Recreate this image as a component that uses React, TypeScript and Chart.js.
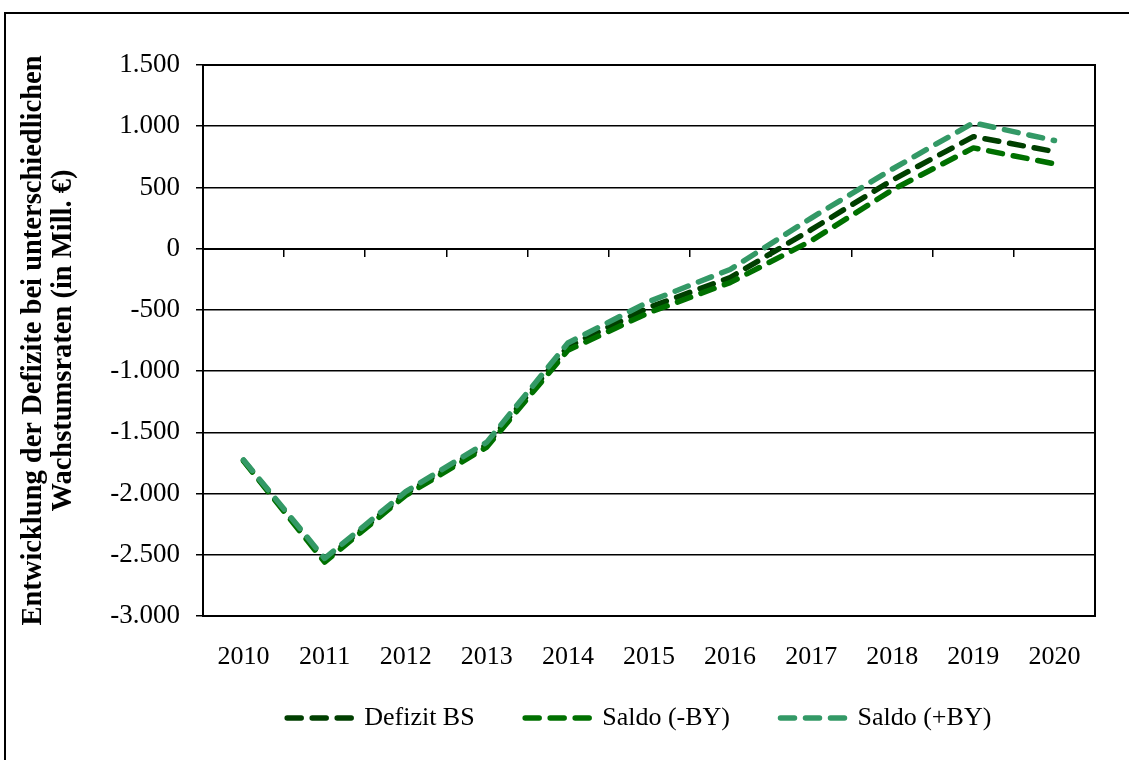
import React, { useEffect, useRef } from "react";
import { Chart, registerables } from "chart.js";

Chart.register(...registerables);

const years = ["2010", "2011", "2012", "2013", "2014", "2015", "2016", "2017", "2018", "2019", "2020"];
const defizitBS = [-1730, -2545, -2000, -1600, -800, -480, -236, 155, 560, 915, 793];
const saldoMinusBY = [-1735, -2560, -2015, -1620, -830, -522, -277, 64, 480, 823, 693];
const saldoPlusBY = [-1725, -2530, -1985, -1580, -770, -432, -170, 250, 650, 1028, 883];
const seriesNames = ["Defizit BS", "Saldo (-BY)", "Saldo (+BY)"];
const seriesColors = ["#003f00", "#007000", "#339966"];
const yMin = -3000;
const yMax = 1500;
const yStep = 500;
const yTitle = ["Entwicklung der Defizite bei unterschiedlichen", "Wachstumsraten (in Mill. €)"];

const FONT = "'Liberation Serif', 'Times New Roman', serif";
const DASH = [14, 11];
const LINE_W = 5.5;

function fmtDE(v: number): string {
  const s = Math.abs(Math.round(v)).toString().replace(/\B(?=(\d{3})+(?!\d))/g, ".");
  return (v < 0 ? "-" : "") + s;
}

const plotBorder = {
  id: "plotBorder",
  beforeDatasetsDraw(chart: any) {
    const { ctx, chartArea } = chart;
    ctx.save();
    ctx.strokeStyle = "#000";
    ctx.lineWidth = 2;
    ctx.strokeRect(chartArea.left, chartArea.top, chartArea.right - chartArea.left, chartArea.bottom - chartArea.top);
    ctx.restore();
  },
};

export default function App() {
  const ref = useRef<HTMLCanvasElement | null>(null);

  useEffect(() => {
    if (!ref.current) return;
    const data = [defizitBS, saldoMinusBY, saldoPlusBY];
    const chart = new Chart(ref.current, {
      type: "line",
      data: {
        labels: years,
        datasets: data.map((d, i) => ({
          label: seriesNames[i],
          data: d,
          borderColor: seriesColors[i],
          backgroundColor: seriesColors[i],
          borderWidth: LINE_W,
          borderDash: DASH,
          borderCapStyle: "round",
          borderJoinStyle: "round",
          pointRadius: 0,
          tension: 0,
          fill: false,
          order: 3 - i,
          xAxisID: "x",
          yAxisID: "y",
        })),
      },
      options: {
        responsive: false,
        animation: false,
        layout: { padding: { left: 0, top: 65, right: 34, bottom: 19 } },
        plugins: {
          tooltip: { enabled: false },
          legend: {
            position: "bottom",
            fullSize: false,
            labels: {
              usePointStyle: true,
              pointStyle: "line",
              pointStyleWidth: 64,
              padding: 31,
              color: "#000",
              font: { family: FONT, size: 26 },
              generateLabels: (c: any) =>
                c.data.datasets.map((ds: any, i: number) => ({
                  text: ds.label + "   ",
                  datasetIndex: i,
                  fillStyle: ds.borderColor,
                  strokeStyle: ds.borderColor,
                  lineWidth: LINE_W,
                  lineDash: DASH,
                  lineDashOffset: 0,
                  lineCap: "round",
                  lineJoin: "round",
                  pointStyle: "line",
                  hidden: false,
                  fontColor: "#000",
                })),
            },
          },
        },
        scales: {
          y: {
            min: yMin,
            max: yMax,
            afterFit(scale: any) {
              scale.width = 203;
            },
            ticks: {
              stepSize: yStep,
              padding: 16,
              color: "#000",
              font: { family: FONT, size: 27 },
              callback: (v: any) => fmtDE(Number(v)),
            },
            grid: { color: "#000", lineWidth: 1.5, tickLength: 7, drawTicks: true },
            border: { display: true, color: "#000", width: 2 },
            title: {
              display: true,
              text: yTitle,
              color: "#000",
              font: { family: FONT, size: 28.5, weight: "bold", lineHeight: "30px" },
              padding: { top: 18.5, bottom: 0 },
            },
          },
          x: {
            type: "category",
            offset: true,
            afterFit(scale: any) {
              scale.height = 58;
            },
            grid: { display: false, drawTicks: false },
            border: { display: false },
            ticks: {
              padding: 26,
              color: "#000",
              maxRotation: 0,
              autoSkip: false,
              font: { family: FONT, size: 26 },
            },
          },
          x2: {
            type: "category",
            labels: years,
            position: { y: 0 },
            offset: true,
            grid: { offset: true, drawOnChartArea: false, drawTicks: true, tickLength: 7, color: "#000", lineWidth: 1.5 },
            border: { display: true, color: "#000", width: 2 },
            ticks: { display: false },
          },
        },
      },
      plugins: [plotBorder],
    } as any);
    return () => chart.destroy();
  }, []);

  return (
    <div style={{ position: "fixed", left: 0, top: 0, width: 1129, height: 760, overflow: "hidden", background: "#fff" }}>
      <div style={{ position: "absolute", left: 4, top: 12, width: 1300, height: 900, border: "2px solid #000" }} />
      <canvas ref={ref} width={1129} height={760} style={{ position: "absolute", left: 0, top: 0 }} />
    </div>
  );
}
